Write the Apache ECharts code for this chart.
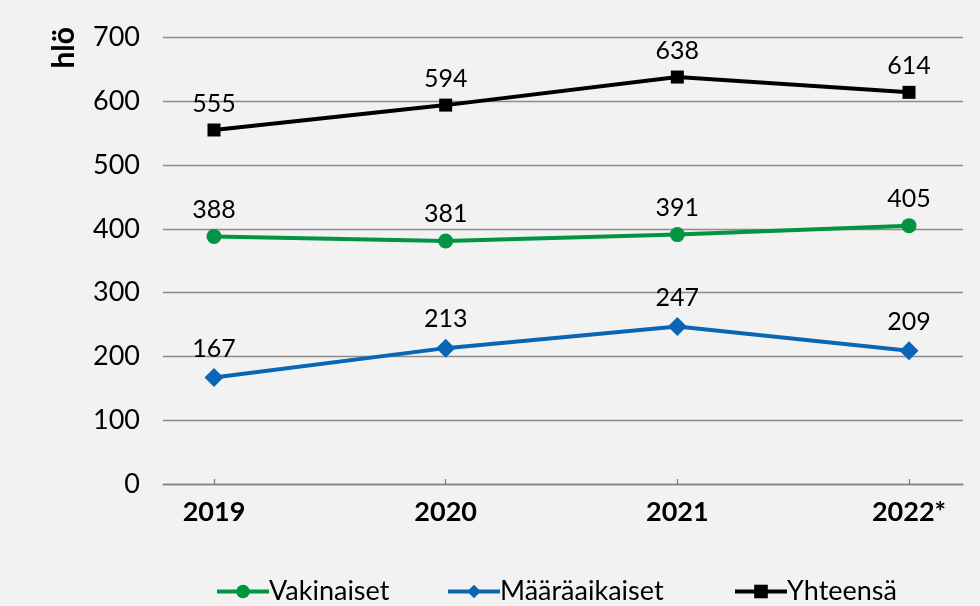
<!DOCTYPE html>
<html><head><meta charset="utf-8">
<script src="https://cdn.jsdelivr.net/npm/echarts@6/dist/echarts.min.js"></script>
<style>html,body{margin:0;padding:0;background:#f2f2f2}#c{width:980px;height:606px}</style>
</head><body><div id="c"></div>
<script>
const categories = ['2019', '2020', '2021', '2022*'];
const seriesNames = ['Vakinaiset', 'Määräaikaiset', 'Yhteensä'];
const vakinaiset = [388, 381, 391, 405];
const maaraaikaiset = [167, 213, 247, 209];
const yhteensa = [555, 594, 638, 614];
const yTicks = [0, 100, 200, 300, 400, 500, 600, 700];
const yName = 'hlö';

const FONT = 'Lato';
const chart = echarts.init(document.getElementById('c'));
const labelStyle = {show: true, position: 'top', distance: 7, color: '#000', fontSize: 25, fontFamily: FONT};
const legendLefts = [215, 446, 733];
chart.setOption({
  backgroundColor: '#f2f2f2',
  textStyle: {fontFamily: FONT},
  animation: false,
  grid: [
    {left: 163, right: 17, top: 37.5, bottom: 122},
    {left: 214, right: 71, top: 37.5, bottom: 122}
  ],
  xAxis: [
    {type: 'category', gridIndex: 0, data: categories, axisLabel: {show: false}, axisTick: {show: false},
     axisLine: {show: true, lineStyle: {color: '#808080', width: 1.3}}},
    {type: 'category', gridIndex: 1, data: categories, boundaryGap: false,
     axisLine: {show: false},
     axisTick: {show: true, inside: true, length: 5, lineStyle: {color: '#808080', width: 1.3}},
     axisLabel: {color: '#000', fontSize: 27, fontWeight: 'bold', fontFamily: FONT, margin: 15}}
  ],
  yAxis: [
    {type: 'value', gridIndex: 0, min: yTicks[0], max: yTicks[yTicks.length - 1], interval: 100,
     axisLine: {show: false}, axisTick: {show: false},
     axisLabel: {color: '#000', fontSize: 27, fontFamily: FONT, margin: 23},
     splitLine: {lineStyle: {color: '#8c8c8c', width: 1.3}}},
    {type: 'value', gridIndex: 1, min: yTicks[0], max: yTicks[yTicks.length - 1], interval: 100,
     axisLine: {show: false}, axisTick: {show: false}, axisLabel: {show: false}, splitLine: {show: false}}
  ],
  legend: seriesNames.map((n, i) => ({
    left: legendLefts[i], top: 578, padding: 0, itemWidth: 52, itemHeight: 17,
    lineStyle: {width: 4},
    textStyle: {color: '#000', fontSize: 27, fontFamily: FONT, padding: [0, 0, 0, -5]},
    data: [n]
  })),
  graphic: [{type: 'text', left: 49, top: 27, rotation: Math.PI / 2,
    style: {text: yName, fontSize: 30, fontWeight: 'bold', fontFamily: FONT, fill: '#000'}}],
  series: [
    {name: seriesNames[0], type: 'line', xAxisIndex: 1, yAxisIndex: 1, data: vakinaiset,
     color: '#009443', symbol: 'circle', symbolSize: 15, lineStyle: {width: 4}, label: labelStyle},
    {name: seriesNames[1], type: 'line', xAxisIndex: 1, yAxisIndex: 1, data: maaraaikaiset,
     color: '#0a66b4', symbol: 'diamond', symbolSize: 19, lineStyle: {width: 4}, label: labelStyle},
    {name: seriesNames[2], type: 'line', xAxisIndex: 1, yAxisIndex: 1, data: yhteensa,
     color: '#000000', symbol: 'rect', symbolSize: 13, lineStyle: {width: 4}, label: labelStyle}
  ]
});
</script></body></html>
